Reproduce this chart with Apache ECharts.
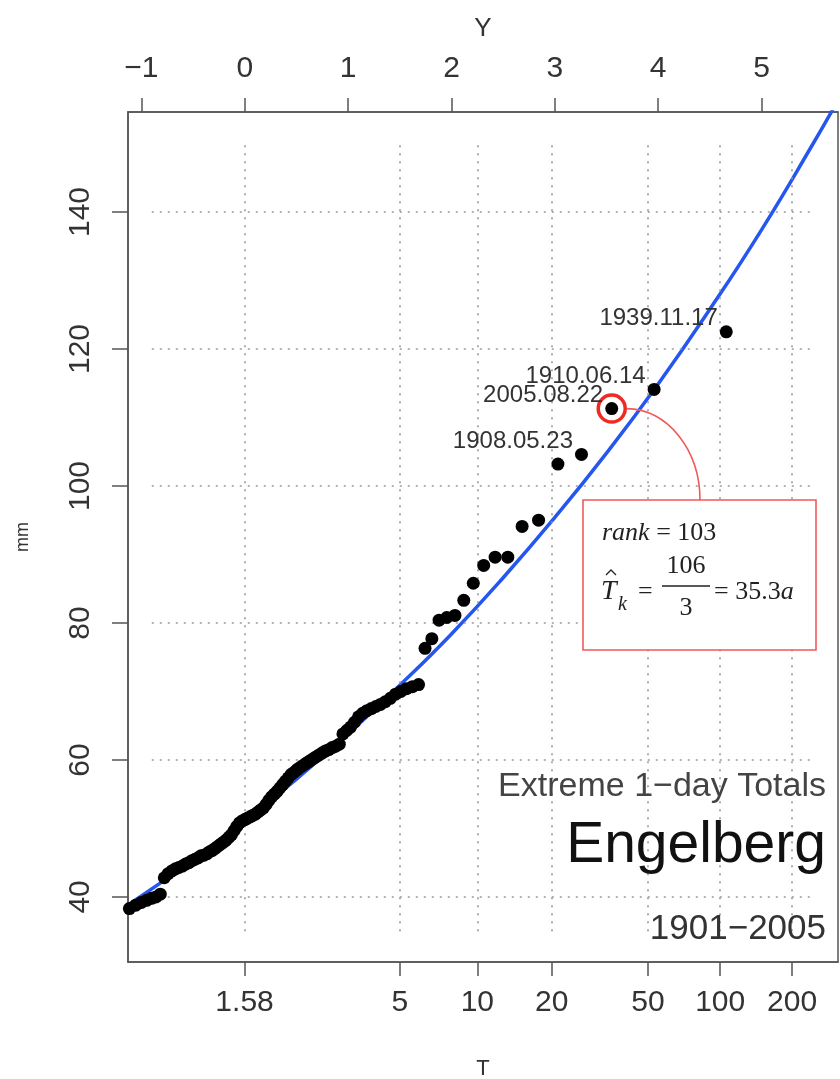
<!DOCTYPE html>
<html><head><meta charset="utf-8">
<script src="https://cdn.jsdelivr.net/npm/echarts@6/dist/echarts.min.js"></script>
<style>html,body{margin:0;padding:0;background:#fff}#c{width:840px;height:1079px}</style>
</head><body><div id="c"></div>
<script>
// ---- data ----
// annual 1-day maxima at Engelberg 1901-2005, sorted ascending (mm); rank k = index+1
const annualMaxima = [
 34.0,35.5,36.8,37.6,38.3,38.8,39.2,39.5,39.8,40.0,
 40.4,42.8,43.4,43.8,44.1,44.3,44.5,44.8,45.0,45.3,
 45.5,45.7,46.0,46.1,46.3,46.6,46.8,47.1,47.4,47.7,
 48.0,48.3,48.7,49.1,49.7,50.3,50.8,51.1,51.3,51.5,
 51.7,51.9,52.1,52.4,52.7,53.0,53.5,54.1,54.6,55.0,
 55.4,55.9,56.4,56.9,57.4,57.9,58.2,58.6,58.9,59.2,
 59.5,59.8,60.1,60.4,60.7,61.0,61.3,61.5,61.8,62.0,
 62.3,63.8,64.3,64.8,65.5,66.3,66.8,67.2,67.5,67.8,
 68.1,68.5,69.0,69.6,70.0,70.4,70.7,71.0,76.3,77.7,
 80.4,80.8,81.1,83.3,85.8,88.4,89.6,89.6,94.1,95.0,
 103.2,104.6,111.3,114.1,122.5
];
const labelRanks = [102,103,104,105];
const labelDates = ['1908.05.23','2005.08.22','1910.06.14','1939.11.17'];
const highlightRank = 103;
// fitted curve (reduced variate Y, mm)
const fitY  = [-1.15,-0.5,0,0.5,1,1.5,2,2.5,3,3.5,4,4.5,5,5.5,5.75];
const fitMM = [38.6,45.4,51.1,57.2,63.8,70.9,78.4,86.6,95.4,104.8,114.9,125.8,137.4,150.0,156.6];
// axes
const topTicks = [-1,0,1,2,3,4,5];
const returnPeriods = [1.58,5,10,20,50,100,200];
const returnLabels = ['1.58','5','10','20','50','100','200'];
const mmTicks = [40,60,80,100,120,140];
const gridMM = [40,60,80,100,120,140];
const gridYRange = [-0.9,5.5];
const gridMMRange = [35,150];

// ---- transforms ----
const nYears = annualMaxima.length;
const gumbel = T => -Math.log(-Math.log(1 - 1/T));
const plotPos = k => -Math.log(-Math.log(k/(nYears+1)));
const tPos = returnPeriods.map(gumbel);
const minus = s => String(s).replace('-', '\u2212');

const pts = annualMaxima.map((v,i) => {
  const k = i+1;
  const j = labelRanks.indexOf(k);
  const item = {value:[plotPos(k), v]};
  if (j >= 0) item.label = {show:true, formatter: labelDates[j]};
  return item;
});
const ring = [[plotPos(highlightRank), annualMaxima[highlightRank-1]]];
const fit = fitY.map((y,i)=>[y, fitMM[i]]);

const gridLines = [];
tPos.forEach(x => gridLines.push([{coord:[x,gridMMRange[0]]},{coord:[x,gridMMRange[1]]}]));
gridMM.forEach(y => gridLines.push([{coord:[gridYRange[0],y]},{coord:[gridYRange[1],y]}]));

const SANS = 'Liberation Sans';
const SERIF = 'Liberation Serif';
const tickStyle = {color:'#555', width:1.5};

const chart = echarts.init(document.getElementById('c'), null, {renderer:'canvas'});
chart.setOption({
  animation:false,
  backgroundColor:'#fff',
  grid:{left:128, right:2, top:112, bottom:117, show:true, borderColor:'#555', borderWidth:1.5,
        containLabel:false, outerBoundsMode:'none'},
  xAxis:[
    {type:'value', position:'bottom', min:-1.13, max:5.74,
     axisLine:{show:true, onZero:false, lineStyle:tickStyle}, splitLine:{show:false},
     axisTick:{show:true, length:14, lineStyle:tickStyle, customValues:tPos},
     axisLabel:{customValues:tPos, fontSize:30, color:'#333', fontFamily:SANS, margin:26,
       formatter: v => { let b=0; tPos.forEach((p,i)=>{ if(Math.abs(p-v)<Math.abs(tPos[b]-v)) b=i; }); return returnLabels[b]; }},
     name:'T', nameLocation:'middle', nameGap:96, nameTextStyle:{fontSize:22, color:'#333', fontFamily:SANS}},
    {type:'value', position:'top', min:-1.13, max:5.74,
     axisLine:{show:true, onZero:false, lineStyle:tickStyle}, splitLine:{show:false},
     axisTick:{show:true, length:14, lineStyle:tickStyle, customValues:topTicks},
     axisLabel:{customValues:topTicks, fontSize:30, color:'#333', fontFamily:SANS, margin:28, formatter: v=>minus(v)},
     name:'Y', nameLocation:'middle', nameGap:70, nameTextStyle:{fontSize:26, color:'#333', fontFamily:SANS}}
  ],
  yAxis:{type:'value', min:30.5, max:154.6,
     axisLine:{show:true, onZero:false, lineStyle:tickStyle}, splitLine:{show:false},
     axisTick:{show:true, length:16, lineStyle:tickStyle, customValues:mmTicks},
     axisLabel:{customValues:mmTicks, rotate:90, fontSize:30, color:'#333', fontFamily:SANS, margin:32},
     name:'mm', nameLocation:'middle', nameGap:96, nameTextStyle:{fontSize:18, color:'#333', fontFamily:SANS}},
  series:[
    {type:'line', data:[], silent:true, z:1,
     markLine:{silent:true, symbol:'none', label:{show:false},
       lineStyle:{color:'#999', width:1.6, type:[2,6]}, data:gridLines}},
    {type:'line', data:fit, smooth:true, showSymbol:false, z:3,
     lineStyle:{color:'#2656f0', width:3.5}},
    {type:'scatter', data:ring, symbolSize:27, z:4,
     itemStyle:{color:'#fff', borderColor:'#ee2a22', borderWidth:3.5, opacity:1}},
    {type:'scatter', data:pts, symbolSize:13, z:5,
     itemStyle:{color:'#000', opacity:1},
     label:{show:false, position:'left', distance:2, offset:[0,-13], fontSize:24, color:'#333', fontFamily:SANS}}
  ]
});

// annotation: leader curve from the highlighted point to the formula box
const p = chart.convertToPixel({xAxisIndex:0, yAxisIndex:0}, ring[0]);
const sx = p[0] + 15, sy = p[1];
const bx = 583, by = 500, bw = 233, bh = 150, ex = 700;
chart.setOption({
  graphic:[
    {type:'bezierCurve', z:10, silent:true,
     shape:{x1:sx, y1:sy, cpx1:sx+(ex-sx)*0.55, cpy1:sy, cpx2:ex, cpy2:by-(by-sy)*0.55, x2:ex, y2:by},
     style:{stroke:'#f05a5a', lineWidth:1.6, fill:null}},
    {type:'rect', z:10, silent:true, shape:{x:bx, y:by, width:bw, height:bh},
     style:{fill:'#fff', stroke:'#f05a5a', lineWidth:1.6}},
    {type:'text', z:11, silent:true, style:{text:'{i|rank} = 103', x:602, y:533, verticalAlign:'middle',
      fontFamily:SERIF, fontSize:26, fill:'#222', rich:{i:{fontStyle:'italic', fontFamily:SERIF, fontSize:26, fill:'#222'}}}},
    {type:'text', z:11, silent:true, style:{text:'T', x:601, y:592, verticalAlign:'middle',
      fontFamily:SERIF, fontStyle:'italic', fontSize:28, fill:'#222'}},
    {type:'polyline', z:11, silent:true, shape:{points:[[606,575],[611,570],[616,575]]},
     style:{stroke:'#222', lineWidth:1.3, fill:null}},
    {type:'text', z:11, silent:true, style:{text:'k', x:618, y:605, verticalAlign:'middle',
      fontFamily:SERIF, fontStyle:'italic', fontSize:20, fill:'#222'}},
    {type:'text', z:11, silent:true, style:{text:'=', x:638, y:592, verticalAlign:'middle',
      fontFamily:SERIF, fontSize:26, fill:'#222'}},
    {type:'text', z:11, silent:true, style:{text:'106', x:686, y:566, align:'center', verticalAlign:'middle',
      fontFamily:SERIF, fontSize:26, fill:'#222'}},
    {type:'line', z:11, silent:true, shape:{x1:662, y1:586, x2:710, y2:586}, style:{stroke:'#222', lineWidth:1.4}},
    {type:'text', z:11, silent:true, style:{text:'3', x:686, y:608, align:'center', verticalAlign:'middle',
      fontFamily:SERIF, fontSize:26, fill:'#222'}},
    {type:'text', z:11, silent:true, style:{text:'= 35.3{i|a}', x:714, y:592, verticalAlign:'middle',
      fontFamily:SERIF, fontSize:26, fill:'#222', rich:{i:{fontStyle:'italic', fontFamily:SERIF, fontSize:26, fill:'#222'}}}},
    // title block
    {type:'text', z:11, silent:true, style:{text:'Extreme 1\u2212day Totals', x:826, y:787, align:'right', verticalAlign:'middle',
      fontFamily:SANS, fontSize:34, fill:'#444'}},
    {type:'text', z:11, silent:true, style:{text:'Engelberg', x:826, y:846, align:'right', verticalAlign:'middle',
      fontFamily:SANS, fontSize:57, fill:'#111'}},
    {type:'text', z:11, silent:true, style:{text:'1901\u22122005', x:826, y:929, align:'right', verticalAlign:'middle',
      fontFamily:SANS, fontSize:35, fill:'#333'}}
  ]
});
</script></body></html>
